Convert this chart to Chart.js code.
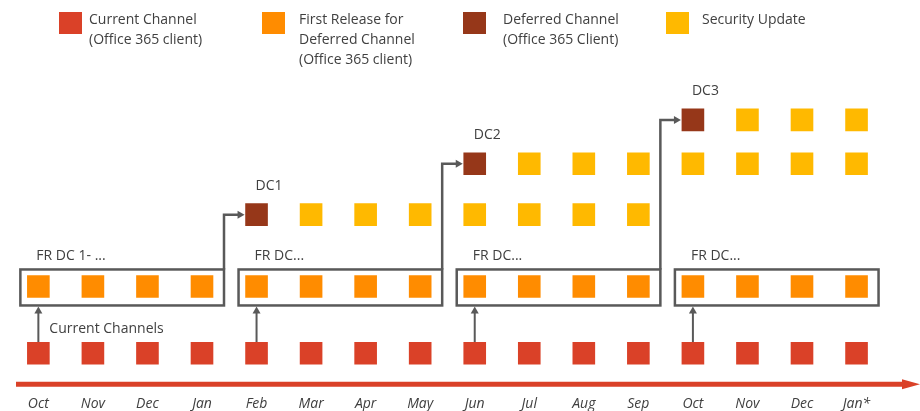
<!DOCTYPE html>
<html>
<head>
<meta charset="utf-8">
<script src="https://cdn.jsdelivr.net/npm/chart.js@4.4.0/dist/chart.umd.min.js"></script>
<style>
  html, body { margin: 0; padding: 0; background: #fff; }
  #wrap { width: 920px; height: 411px; }
</style>
</head>
<body>
<div id="wrap"><canvas id="chart"></canvas></div>
<script>
// timeline months (x axis)
const months = ['Oct', 'Nov', 'Dec', 'Jan', 'Feb', 'Mar', 'Apr', 'May', 'Jun', 'Jul', 'Aug', 'Sep', 'Oct', 'Nov', 'Dec', 'Jan*'];

// row levels (height above the timeline)
const currentLevel = 3.1;
const firstReleaseLevel = 9.8;

const currentMonths = [0, 1, 2, 3, 4, 5, 6, 7, 8, 9, 10, 11, 12, 13, 14, 15];
const firstReleaseMonths = [0, 1, 2, 3, 4, 5, 6, 7, 8, 9, 10, 11, 12, 13, 14, 15];

const deferredNames = ['DC1', 'DC2', 'DC3'];
const deferredMonths = [4, 8, 12];
const deferredLevels = [17, 22.1, 26.5];

// security updates following each deferred release
const securityMonths = [[5, 6, 7, 8, 9, 10, 11], [9, 10, 11, 12, 13, 14, 15], [13, 14, 15]];

// first release groups (start month, end month)
const frGroups = [[0, 3], [4, 7], [8, 11], [12, 15]];
const frLabels = ['FR DC 1- ...', 'FR DC...', 'FR DC...', 'FR DC...'];

const legendLabels = [
    ['Current Channel', '(Office 365 client)'],
    ['First Release for', 'Deferred Channel', '(Office 365 client)'],
    ['Deferred Channel', '(Office 365 Client)'],
    ['Security Update']
];

const RED = '#DA4128';
const ORANGE = '#FF8C00';
const DEFERRED = '#963719';
const YELLOW = '#FFB900';
const LINE = '#595959';
const TEXT = '#404040';
const FONT = '"Open Sans", "Noto Sans", sans-serif';

const securityPoints = [];
securityMonths.forEach((row, i) => {
    row.forEach(m => securityPoints.push({ x: m, y: deferredLevels[i] }));
});

function arrowHead(ctx, x, y, dir) {
    ctx.beginPath();
    if (dir === 'up') {
        ctx.moveTo(x, y);
        ctx.lineTo(x - 4, y + 7);
        ctx.lineTo(x + 4, y + 7);
    } else {
        ctx.moveTo(x, y);
        ctx.lineTo(x - 7, y - 4);
        ctx.lineTo(x - 7, y + 4);
    }
    ctx.closePath();
    ctx.fill();
}

const timelinePlugin = {
    id: 'timeline',
    beforeDatasetsDraw(chart) {
        const ctx = chart.ctx;
        const xs = chart.scales.x;
        const ys = chart.scales.y;
        const area = chart.chartArea;
        const px = v => xs.getPixelForValue(v);
        const py = v => ys.getPixelForValue(v);

        ctx.save();

        // red timeline with arrow
        const axisY = area.bottom;
        ctx.strokeStyle = RED;
        ctx.fillStyle = RED;
        ctx.lineWidth = 5;
        ctx.beginPath();
        ctx.moveTo(area.left, axisY);
        ctx.lineTo(area.right, axisY);
        ctx.stroke();
        ctx.beginPath();
        ctx.moveTo(chart.width, axisY);
        ctx.lineTo(area.right - 2, axisY - 5);
        ctx.lineTo(area.right - 2, axisY + 5);
        ctx.closePath();
        ctx.fill();

        ctx.strokeStyle = LINE;
        ctx.fillStyle = LINE;
        const frY = py(firstReleaseLevel);
        const boxTop = frY - 17;
        const boxBottom = frY + 19;

        frGroups.forEach((g, i) => {
            const left = px(g[0]) - 18;
            const right = px(g[1]) + 22;
            ctx.lineWidth = 2.5;
            ctx.strokeRect(left, boxTop, right - left, boxBottom - boxTop);

            // arrow up from current channel
            const ax = px(g[0]);
            ctx.lineWidth = 2;
            ctx.beginPath();
            ctx.moveTo(ax, py(currentLevel) - 11);
            ctx.lineTo(ax, boxBottom + 6);
            ctx.stroke();
            arrowHead(ctx, ax, boxBottom + 1, 'up');

            // connector to next deferred release
            if (i < deferredMonths.length) {
                const dy = py(deferredLevels[i]);
                const dx = px(deferredMonths[i]) - 12;
                ctx.lineWidth = 2.5;
                ctx.beginPath();
                ctx.moveTo(right, boxTop);
                ctx.lineTo(right, dy);
                ctx.lineTo(dx - 5, dy);
                ctx.stroke();
                arrowHead(ctx, dx, dy, 'right');
            }
        });

        // texts
        ctx.fillStyle = TEXT;
        ctx.font = '14px ' + FONT;
        ctx.textBaseline = 'middle';
        ctx.textAlign = 'left';
        frGroups.forEach((g, i) => {
            ctx.fillText(frLabels[i], px(g[0]) - 2, boxTop - 13);
        });
        deferredNames.forEach((n, i) => {
            ctx.fillText(n, px(deferredMonths[i]) - 1, py(deferredLevels[i]) - 29);
        });
        ctx.fillText('Current Channels', px(0) + 11, py(currentLevel) - 24);

        ctx.restore();
    },
    afterDraw(chart) {
        const ctx = chart.ctx;
        const colors = [RED, ORANGE, DEFERRED, YELLOW];
        const boxX = [59, 262, 463, 666];
        const textX = [89, 299, 503, 702];
        ctx.save();
        ctx.font = '14px ' + FONT;
        ctx.textBaseline = 'middle';
        ctx.textAlign = 'left';
        legendLabels.forEach((lines, i) => {
            ctx.fillStyle = colors[i];
            ctx.fillRect(boxX[i], 12, 23, 22);
            ctx.fillStyle = TEXT;
            lines.forEach((t, j) => ctx.fillText(t, textX[i], 20 + j * 20));
        });
        ctx.restore();
    }
};

const squareStyle = color => ({
    pointStyle: 'rect',
    pointRadius: 16,
    pointHoverRadius: 16,
    pointBorderWidth: 0,
    pointBackgroundColor: color,
    pointBorderColor: color,
    showLine: false
});

new Chart(document.getElementById('chart'), {
    type: 'scatter',
    data: {
        datasets: [
            { label: 'Current Channel', data: currentMonths.map(m => ({ x: m, y: currentLevel })), ...squareStyle(RED) },
            { label: 'First Release for Deferred Channel', data: firstReleaseMonths.map(m => ({ x: m, y: firstReleaseLevel })), ...squareStyle(ORANGE) },
            { label: 'Deferred Channel', data: deferredMonths.map((m, i) => ({ x: m, y: deferredLevels[i] })), ...squareStyle(DEFERRED) },
            { label: 'Security Update', data: securityPoints, ...squareStyle(YELLOW) }
        ]
    },
    options: {
        responsive: true,
        maintainAspectRatio: false,
        animation: false,
        events: [],
        layout: { padding: { top: 85, left: 14, right: 8, bottom: -12 } },
        plugins: {
            legend: { display: false },
            tooltip: { enabled: false }
        },
        scales: {
            x: {
                type: 'linear',
                min: -0.41,
                max: 15.87,
                grid: { display: false, drawTicks: false },
                border: { display: false },
                afterBuildTicks: scale => {
                    scale.ticks = months.map((m, i) => ({ value: i }));
                },
                ticks: {
                    autoSkip: false,
                    maxRotation: 0,
                    padding: 11,
                    color: TEXT,
                    font: { family: FONT, size: 14, style: 'italic' },
                    callback: v => months[v]
                }
            },
            y: {
                display: false,
                min: 0,
                max: 30
            }
        }
    },
    plugins: [timelinePlugin]
});
</script>
</body>
</html>
